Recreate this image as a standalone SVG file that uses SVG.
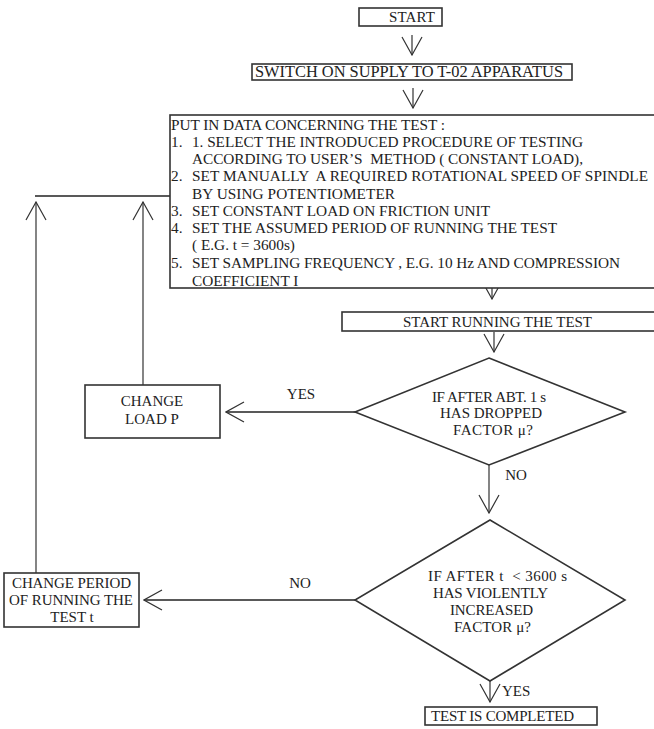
<svg xmlns="http://www.w3.org/2000/svg" width="654" height="729" viewBox="0 0 654 729">
<style>
text{font-family:"Liberation Serif","Times New Roman",serif;font-size:15px;fill:#222;white-space:pre}
.c{text-anchor:middle}
.b{font-size:15.3px}
.box{fill:#fff;stroke:#333;stroke-width:1.6}
.ln{fill:none;stroke:#333;stroke-width:1.2}
.thk{fill:none;stroke:#222;stroke-width:1.6}
</style>
<defs>
<marker id="arr" viewBox="-20 -11 21 22" refX="0" refY="0" markerWidth="21" markerHeight="22" markerUnits="userSpaceOnUse" orient="auto">
<path d="M-18,-10 L0,0 L-18,10" fill="none" stroke="#333" stroke-width="1.2"/>
</marker>
</defs>
<g id="connectors">
<line class="ln" x1="412" y1="35" x2="412" y2="55" marker-end="url(#arr)"/>
<line class="ln" x1="413" y1="88" x2="413" y2="108" marker-end="url(#arr)"/>
<line class="ln" x1="492" y1="278" x2="492" y2="299" marker-end="url(#arr)"/>
<line class="ln" x1="494" y1="332" x2="494" y2="352" marker-end="url(#arr)"/>
<line class="thk" x1="35" y1="196" x2="170" y2="196"/>
<line class="ln" x1="36" y1="573" x2="36" y2="202" marker-end="url(#arr)"/>
<line class="ln" x1="143" y1="385" x2="143" y2="202" marker-end="url(#arr)"/>
<line class="thk" x1="355" y1="412" x2="226" y2="412" marker-end="url(#arr)"/>
<text class="c" x="301" y="399">YES</text>
<line class="ln" x1="489" y1="465" x2="489" y2="513" marker-end="url(#arr)"/>
<text class="c" x="516" y="480">NO</text>
<line class="thk" x1="355" y1="600" x2="144" y2="600" marker-end="url(#arr)"/>
<text class="c" x="300" y="588">NO</text>
<line class="ln" x1="490" y1="681" x2="490" y2="702" marker-end="url(#arr)"/>
<text x="502" y="696">YES</text>
</g>
<g id="start">
<rect class="box" x="359" y="8" width="83" height="18"/>
<text x="389" y="22" textLength="46">START</text>
</g>
<g id="switch">
<rect class="box" x="252" y="64" width="320" height="16"/>
<text x="255" y="77" textLength="308" style="font-size:16.4px">SWITCH ON SUPPLY TO T-02 APPARATUS</text>
</g>
<g id="input">
<rect class="box" x="170" y="115" width="500" height="173"/>
<text class="b" x="171" y="130" textLength="274">PUT IN DATA CONCERNING THE TEST :</text>
<text class="b" x="171" y="147">1.</text><text class="b" x="192" y="147" textLength="391">1. SELECT THE INTRODUCED PROCEDURE OF TESTING</text>
<text class="b" x="192" y="164" textLength="391">ACCORDING TO USER’S  METHOD ( CONSTANT LOAD),</text>
<text class="b" x="171" y="181">2.</text><text class="b" x="192" y="181" textLength="456">SET MANUALLY  A REQUIRED ROTATIONAL SPEED OF SPINDLE</text>
<text class="b" x="192" y="199" textLength="203">BY USING POTENTIOMETER</text>
<text class="b" x="171" y="216">3.</text><text class="b" x="192" y="216" textLength="298">SET CONSTANT LOAD ON FRICTION UNIT</text>
<text class="b" x="171" y="233">4.</text><text class="b" x="192" y="233" textLength="365">SET THE ASSUMED PERIOD OF RUNNING THE TEST</text>
<text class="b" x="192" y="250">( E.G. t = 3600s)</text>
<text class="b" x="171" y="268">5.</text><text class="b" x="192" y="268" textLength="428">SET SAMPLING FREQUENCY , E.G. 10 Hz AND COMPRESSION</text>
<text class="b" x="192" y="286">COEFFICIENT I</text>
</g>
<g id="run">
<rect class="box" x="342" y="312" width="330" height="19"/>
<text x="403" y="327" textLength="189">START RUNNING THE TEST</text>
</g>
<g id="decision1">
<polygon class="box" points="489,358 625,412 489,465 355,412"/>
<text x="432" y="402" textLength="114">IF AFTER ABT. 1 s</text>
<text x="440" y="418" textLength="102">HAS DROPPED</text>
<text x="453" y="435" textLength="80">FACTOR μ?</text>
</g>
<g id="changeload">
<rect class="box" x="85" y="385" width="135" height="53"/>
<text class="c" x="152" y="406">CHANGE</text>
<text class="c" x="152" y="424">LOAD P</text>
</g>
<g id="decision2">
<polygon class="box" points="490,520 625,600 490,681 355,600"/>
<text x="428" y="581" textLength="139">IF AFTER t  &lt; 3600 s</text>
<text x="433" y="598" textLength="115">HAS VIOLENTLY</text>
<text x="450" y="615" textLength="83">INCREASED</text>
<text x="454" y="632" textLength="77">FACTOR μ?</text>
</g>
<g id="changeperiod">
<rect class="box" x="4" y="573" width="135" height="54"/>
<text x="12" y="588" textLength="119">CHANGE PERIOD</text>
<text x="9" y="605" textLength="124">OF RUNNING THE</text>
<text class="c" x="72" y="622">TEST t</text>
</g>
<g id="completed">
<rect class="box" x="425" y="707" width="172" height="18"/>
<text x="431" y="721" textLength="143">TEST IS COMPLETED</text>
</g>
</svg>
